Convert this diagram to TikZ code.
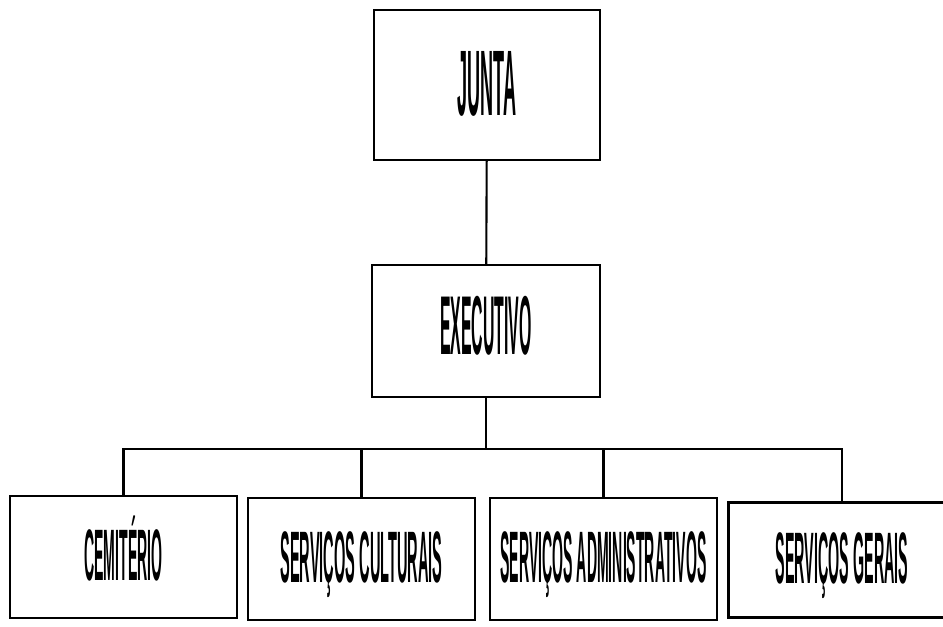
\documentclass[tikz,border=0pt]{standalone}
\usepackage{fontspec}
\usepackage{graphicx}
\setmainfont{Liberation Sans}
\usetikzlibrary{positioning}

\newcommand\squeezed[2][0.2]{\scalebox{#1}[1]{#2}}

\begin{document}
\begin{tikzpicture}[x=0.02cm,y=-0.02cm,line width=1.2pt,
        org box/.style={rectangle,draw,inner sep=0pt,font=\bfseries\fontsize{41.5}{44}\selectfont,
            text height=1.05cm,text depth=0.12cm,
            minimum width=4.54cm,minimum height=2.44cm}]
            \useasboundingbox (0,0) rectangle (943,626);
            \node[org box,minimum width=4.52cm,minimum height=3cm,text height=1.33cm,text depth=0.1cm,
                font=\bfseries\fontsize{53}{56}\selectfont] (junta) at (487,85) {\squeezed[0.194]{JUNTA}};
            \node[org box,minimum width=4.56cm,minimum height=2.64cm,text height=1.2cm,text depth=0.28cm,
                font=\bfseries\fontsize{47.5}{50}\selectfont] (exec) at (486,331) {\squeezed[0.19]{EXECUTIVO}};
            \node[org box] (cem) at (123.5,557) {\squeezed[0.193]{CEMITÉRIO}};
            \node[org box] (cult) at (361.5,559) {\squeezed{SERVIÇOS CULTURAIS}};
            \node[org box] (adm) at (603.5,559) {\squeezed[0.193]{SERVIÇOS ADMINISTRATIVOS}};
            \node[org box,minimum height=2.3cm] (ger) at (842,560) {\squeezed[0.196]{SERVIÇOS GERAIS}};
            \coordinate (bus) at (486,449);
            \path (junta) edge (exec);
            \draw (exec.south) -- (bus);
            \draw (cem.north) -- (cem.north |- bus) -- (ger.north |- bus) -- (ger.north);
            \foreach \n in {cult,adm}
                \draw (\n.north) -- (\n.north |- bus);
        \end{tikzpicture}
\end{document}
